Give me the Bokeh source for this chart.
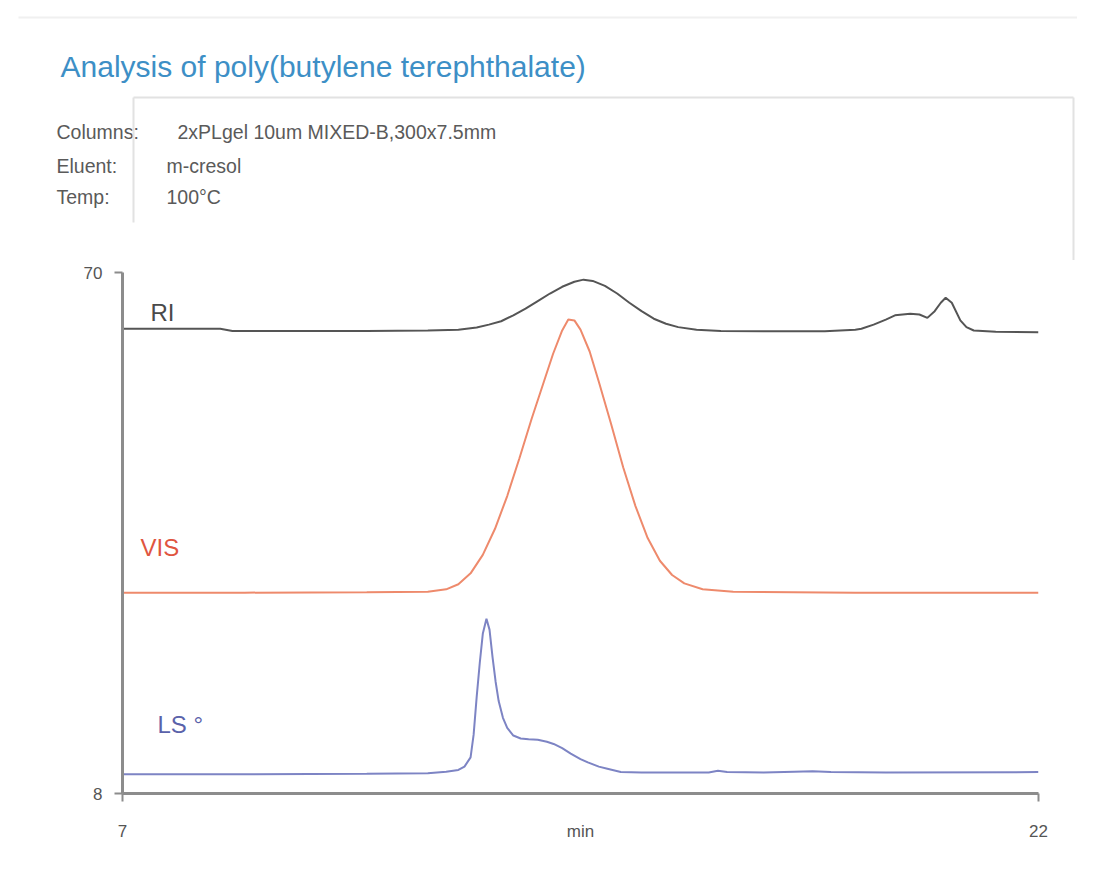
from bokeh.plotting import figure
from bokeh.models import Range1d, FixedTicker, Label
from bokeh.layouts import column
from bokeh.core.properties import value
from bokeh.embed import file_html
from bokeh.resources import INLINE

# ---------------- data ----------------
ri_t = [7.0, 8.6, 8.8, 10.0, 11.0, 12.0, 12.5, 12.8, 13.0, 13.2, 13.4, 13.6, 13.8, 14.0,
        14.2, 14.4, 14.55, 14.7, 14.9, 15.1, 15.3, 15.5, 15.7, 15.9, 16.1, 16.4, 16.8,
        17.5, 18.5, 19.0, 19.1, 19.3, 19.5, 19.65, 19.9, 20.05, 20.18, 20.3, 20.4,
        20.48, 20.58, 20.72, 20.82, 20.94, 21.3, 22.0]
ri_v = [63.3, 63.3, 63.05, 63.05, 63.05, 63.1, 63.2, 63.45, 63.8, 64.2, 64.9, 65.7, 66.6, 67.5,
        68.3, 68.9, 69.15, 69.0, 68.4, 67.5, 66.4, 65.4, 64.5, 63.9, 63.5, 63.2, 63.05,
        63.0, 63.0, 63.2, 63.3, 63.8, 64.4, 64.9, 65.1, 65.0, 64.6, 65.4, 66.4,
        67.0, 66.4, 64.3, 63.5, 63.1, 62.95, 62.9]

vis_t = [7.0, 9.0, 11.0, 12.0, 12.3, 12.5, 12.7, 12.9, 13.1, 13.3, 13.5, 13.7, 13.9, 14.05,
         14.2, 14.3, 14.4, 14.5, 14.65, 14.8, 15.0, 15.2, 15.4, 15.6, 15.8, 16.0, 16.2,
         16.5, 17.0, 19.0, 22.0]
vis_v = [31.9, 31.9, 31.95, 32.0, 32.3, 32.9, 34.2, 36.4, 39.5, 43.4, 47.9, 52.6, 57.0, 60.3,
         63.1, 64.4, 64.3, 63.2, 60.6, 57.0, 52.0, 46.8, 42.2, 38.4, 35.7, 34.0, 33.0,
         32.3, 32.0, 31.9, 31.9]

ls_t = [7.0, 9.0, 11.0, 12.0, 12.3, 12.5, 12.6, 12.7, 12.75, 12.8, 12.85, 12.9, 12.96, 13.01,
        13.06, 13.11, 13.16, 13.23, 13.3, 13.4, 13.52, 13.65, 13.8, 13.95, 14.06, 14.2,
        14.34, 14.5, 14.62, 14.8, 14.94, 15.16, 15.5, 16.0, 16.6, 16.75, 16.9, 17.5,
        18.0, 18.3, 18.6, 19.5, 22.0]
ls_v = [10.3, 10.3, 10.35, 10.4, 10.6, 10.8, 11.2, 12.3, 15.0, 19.5, 23.5, 27.0, 28.8, 27.5,
        24.2, 21.3, 19.0, 17.0, 15.8, 14.9, 14.55, 14.45, 14.4, 14.15, 13.9, 13.4,
        12.75, 12.1, 11.7, 11.2, 10.95, 10.55, 10.5, 10.5, 10.5, 10.7, 10.55, 10.5,
        10.6, 10.65, 10.55, 10.5, 10.55]

x_ticks = [7, 22]
y_ticks = [8, 70]
x_min, x_max = 7, 22
y_min, y_max = 8, 70

title_text = "Analysis of poly(butylene terephthalate)"
info_keys = ["Columns:", "Eluent:", "Temp:"]
info_vals = ["2xPLgel 10um MIXED-B,300x7.5mm", "m-cresol", "100°C"]
series_names = ["RI", "VIS", "LS °"]

# ---------------- layout ----------------
W, H = 1077, 874
TOP_H = 260
FL, FR, FT, FB = 122, 1038, 272, 793   # chart frame edges in page px
FONT = "Liberation Sans"

# ---- header figure (title + info box), pixel coordinates ----
top = figure(width=W, height=TOP_H, x_range=Range1d(0, W), y_range=Range1d(TOP_H, 0),
             output_backend="svg", toolbar_location=None, x_axis_type=None, y_axis_type=None,
             min_border=0)
top.frame_align = False
top.outline_line_color = None
top.grid.visible = False
top.border_fill_color = "white"

top.text(x=[60], y=[66], text=[title_text], text_color="#3d8fc6", text_font=value(FONT),
         text_font_size="30px", text_baseline="middle", text_align="left")
rows_y = [131, 165, 196]
top.text(x=[56] * 3, y=rows_y, text=info_keys, text_color="#5a5a5a", text_font=value(FONT),
         text_font_size="19.5px", text_baseline="middle", text_align="left")
top.text(x=[177, 166, 166], y=rows_y, text=info_vals, text_color="#5a5a5a", text_font=value(FONT),
         text_font_size="19.5px", text_baseline="middle", text_align="left")
# info box edges and faint top rule
top.segment(x0=[133, 133, 1073], y0=[97, 97, 97], x1=[1073, 133, 1073], y1=[97, 222, TOP_H],
            line_color="#e2e2e2", line_width=2)
top.segment(x0=[18], y0=[17], x1=[1077], y1=[17], line_color="#f0f0f0", line_width=2)

# ---- chart figure ----
p = figure(width=W, height=H - TOP_H, x_range=Range1d(x_min, x_max), y_range=Range1d(y_min, y_max),
           output_backend="svg", toolbar_location=None,
           min_border_left=FL, min_border_right=W - FR, min_border_top=FT - TOP_H,
           min_border_bottom=H - FB)
p.frame_align = False
p.outline_line_color = None
p.grid.visible = False
p.background_fill_color = "white"
p.border_fill_color = "white"

def dx(px):
    return x_min + (px - FL) * (x_max - x_min) / (FR - FL)

def dy(py):
    return y_min + (FB - py) * (y_max - y_min) / (FB - FT)

AX = "#8c8c8c"
for ax in (p.xaxis[0], p.yaxis[0]):
    ax.axis_line_color = AX
    ax.axis_line_width = 3
    ax.major_tick_line_color = AX
    ax.major_tick_line_width = 2
    ax.major_tick_in = 0
    ax.major_tick_out = 8
    ax.minor_tick_line_color = None
    ax.major_label_text_font = FONT
    ax.major_label_text_font_size = "17px"
    ax.major_label_text_color = "#555555"

p.xaxis[0].ticker = FixedTicker(ticks=x_ticks)
p.yaxis[0].ticker = FixedTicker(ticks=y_ticks)
p.xaxis[0].major_label_standoff = 23
p.yaxis[0].major_label_standoff = 12
p.xaxis[0].axis_label = "min"
p.xaxis[0].axis_label_text_font = FONT
p.xaxis[0].axis_label_text_font_style = "normal"
p.xaxis[0].axis_label_text_font_size = "17px"
p.xaxis[0].axis_label_text_color = "#555555"
p.xaxis[0].axis_label_standoff = -18

p.line(ri_t, ri_v, line_color="#555555", line_width=2)
p.line(vis_t, vis_v, line_color="#ee8a6c", line_width=2)
p.line(ls_t, ls_v, line_color="#7d84c4", line_width=2)

lab_cols = ["#4a4a4a", "#e0553f", "#5a62aa"]
lab_pos = [(150, 312), (140, 547), (157, 724)]
for name, col, (px, py) in zip(series_names, lab_cols, lab_pos):
    p.add_layout(Label(x=dx(px), y=dy(py), text=name, text_color=col, text_font=FONT,
                       text_font_size="24px", text_baseline="middle", text_align="left"))

layout = column(top, p, spacing=0)
open("out.html", "w").write(file_html(layout, INLINE))
